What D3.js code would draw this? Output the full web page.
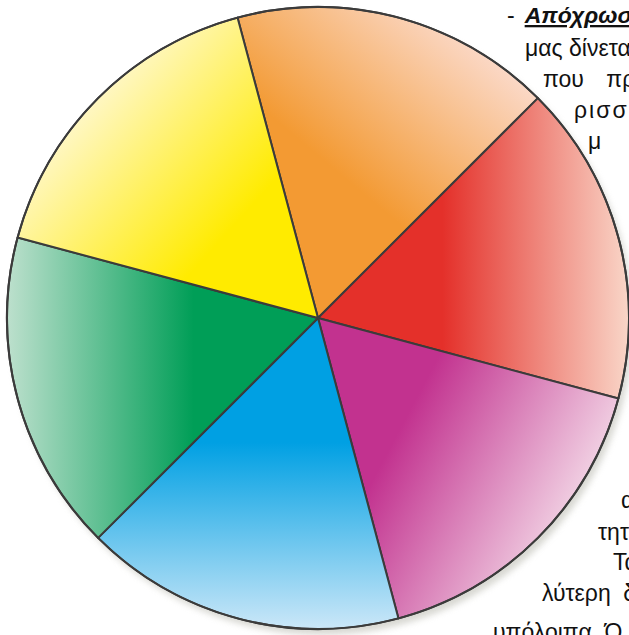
<!DOCTYPE html>
<html>
<head>
<meta charset="utf-8">
<script src="https://cdn.jsdelivr.net/npm/d3@7"></script>
<style>
  html, body { margin: 0; padding: 0; background: #ffffff; overflow: hidden; }
  svg { display: block; }
</style>
</head>
<body>
<svg id="chart" width="629" height="635"></svg>
<script>
// ---- data ----
const categories = ["Πορτοκαλί", "Κόκκινο", "Ματζέντα", "Κυανό", "Πράσινο", "Κίτρινο"];
const values = [1, 1, 1, 1, 1, 1];
const saturated = ["#f39a33", "#e4302a", "#c2328f", "#00a0e3", "#009e57", "#ffeb00"];
const pale = ["#fbd8c6", "#f9d6c8", "#f0cde1", "#cbe7f8", "#bde0cd", "#fff7c2"];
const gradAngles = [40, 90, 118, 180, 270, 312];
const topLines = ["Απόχρωσ", "μας δίνετα", "που πρ", "ρισσ", "μ"];
const bottomLines = ["α", "τητ", "Τα", "λύτερη δ", "υπόλοιπα. Ό"];

// ---- layout ----
const cx = 318, cy = 318, R = 311;
const startDeg = -15;

const svg = d3.select("#chart");
const defs = svg.append("defs");

const blur = defs.append("filter").attr("id", "shadow")
  .attr("x", "-10%").attr("y", "-10%").attr("width", "120%").attr("height", "120%");
blur.append("feGaussianBlur").attr("stdDeviation", 3);

const pie = d3.pie().sort(null).value(d => d)
  .startAngle(startDeg * Math.PI / 180)
  .endAngle((startDeg + 360) * Math.PI / 180);
const arcs = pie(values);
const arc = d3.arc().innerRadius(0).outerRadius(R);

arcs.forEach((a, i) => {
  const ang = gradAngles[i] * Math.PI / 180;
  const g = defs.append("linearGradient")
    .attr("id", "grad" + i)
    .attr("gradientUnits", "userSpaceOnUse")
    .attr("x1", 0).attr("y1", 0)
    .attr("x2", R * Math.sin(ang)).attr("y2", -R * Math.cos(ang));
  g.append("stop").attr("offset", 0).attr("stop-color", saturated[i]);
  g.append("stop").attr("offset", 0.4).attr("stop-color", saturated[i]);
  g.append("stop").attr("offset", 1).attr("stop-color", pale[i]);
});

const root = svg.append("g").attr("transform", `translate(${cx},${cy})`);

root.append("circle")
  .attr("cx", 4).attr("cy", 6).attr("r", R)
  .attr("fill", "#cfcfc8")
  .attr("opacity", 0.8)
  .attr("filter", "url(#shadow)");

root.selectAll("path.slice")
  .data(arcs)
  .join("path")
  .attr("class", "slice")
  .attr("d", arc)
  .attr("fill", (d, i) => `url(#grad${i})`)
  .attr("stroke", "#3b3b3b")
  .attr("stroke-width", 2)
  .attr("stroke-linejoin", "round")
  .append("title").text((d, i) => categories[i]);

root.append("circle")
  .attr("r", R)
  .attr("fill", "none")
  .attr("stroke", "#3b3b3b")
  .attr("stroke-width", 2);

// ---- text ----
const font = "'Liberation Sans', Arial, sans-serif";
const fs = 23;

const first = svg.append("text")
  .attr("x", 507).attr("y", 23)
  .attr("font-family", font).attr("font-size", fs).attr("fill", "#111");
first.append("tspan").text("-");
first.append("tspan")
  .attr("dx", 10)
  .attr("font-weight", "bold").attr("font-style", "italic")
  .attr("text-decoration", "underline")
  .text(topLines[0]);

const topX = [null, 525, 543, 574, 588];
const topY = [null, 56, 87, 118, 149];
const topWS = [0, 0, 16, 0, 0];
const topLS = [0, 0, 0, 2, 0];
topLines.slice(1).forEach((t, k) => {
  svg.append("text")
    .attr("x", topX[k + 1]).attr("y", topY[k + 1])
    .attr("font-family", font).attr("font-size", fs).attr("fill", "#111")
    .attr("word-spacing", topWS[k + 1])
    .attr("letter-spacing", topLS[k + 1])
    .text(t);
});

const botX = [621, 598, 613, 542, 493];
const botY = [508, 540, 570, 601, 640];
const botWS = [0, 0, 0, 6, 0];
bottomLines.forEach((t, k) => {
  svg.append("text")
    .attr("x", botX[k]).attr("y", botY[k])
    .attr("font-family", font).attr("font-size", fs).attr("fill", "#111")
    .attr("word-spacing", botWS[k])
    .text(t);
});
</script>
</body>
</html>
